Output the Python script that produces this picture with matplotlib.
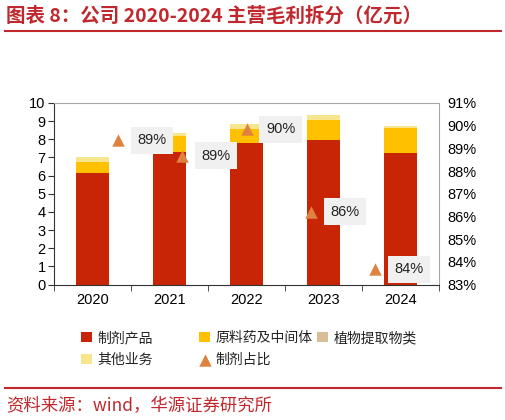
import matplotlib
matplotlib.use("Agg")
import matplotlib.pyplot as plt
import numpy as np

plt.rcParams['font.family'] = ['Liberation Sans', 'Noto Sans CJK SC', 'DejaVu Sans']

years = ['2020', '2021', '2022', '2023', '2024']
prep = [6.13, 7.31, 7.82, 7.97, 7.24]        # 制剂产品
api = [0.61, 0.85, 0.74, 1.11, 1.36]         # 原料药及中间体
plant = [0.0, 0.0, 0.0, 0.0, 0.0]            # 植物提取物类
other = [0.26, 0.18, 0.26, 0.26, 0.15]       # 其他业务
share = [89.35, 88.68, 89.85, 86.2, 83.68]   # 制剂占比 (%)
share_labels = ['89%', '89%', '90%', '86%', '84%']
yticks_left = list(range(0, 11))
yticks_right = list(range(83, 92))

c_red = '#C82506'
c_yel = '#FFC000'
c_tan = '#D8BE96'
c_lt = '#F7E68E'
c_tri = '#E0823F'
c_title = '#C0282D'

fig = plt.figure(figsize=(5.06, 4.2), dpi=100)
ax = fig.add_axes([54/506, 1-284.5/420, 385/506, 181.5/420])
x = np.arange(len(years))
w = 0.42
b1 = ax.bar(x, prep, w, color=c_red, label='制剂产品')
bot = np.array(prep)
b2 = ax.bar(x, api, w, bottom=bot, color=c_yel, label='原料药及中间体')
bot = bot + np.array(api)
b3 = ax.bar(x, plant, w, bottom=bot, color=c_tan, label='植物提取物类')
bot = bot + np.array(plant)
b4 = ax.bar(x, other, w, bottom=bot, color=c_lt, label='其他业务')

ax.set_xlim(-0.5, 4.5)
ax.set_ylim(0, 10)
ax.set_yticks(yticks_left)
ax.set_xticks(x)
ax.set_xticklabels(years)
ax.set_xticks(np.arange(-0.5, 5.0, 1.0), minor=True)
ax.tick_params(axis='x', which='major', length=0, labelsize=10.5, pad=6)
ax.tick_params(axis='x', which='minor', length=4, direction='out', color='#333333')
ax.tick_params(axis='y', length=4, direction='out', labelsize=10.5, pad=2, color='#333333')
ax.spines['left'].set_color('#333333')
ax.spines['bottom'].set_color('#333333')
ax.spines['top'].set_color('#A6A6A6')
ax.spines['right'].set_color('#A6A6A6')

ax2 = ax.twinx()
ax2.set_ylim(83, 91)
ax2.set_yticks(yticks_right)
ax2.set_yticklabels([f'{v}%' for v in yticks_right])
ax2.tick_params(axis='y', length=0, labelsize=10.5, pad=6)
for s in ax2.spines.values():
    s.set_visible(False)
xs = -0.5 + 5 * (np.arange(len(years)) + 1) / 6
tri = ax2.scatter(xs, share, marker='^', s=80, color=c_tri, zorder=5, label='制剂占比', linewidths=0)
for xi, yi, lab in zip(xs, share, share_labels):
    ax2.annotate(lab, (xi, yi), xytext=(14, 0), textcoords='offset points', va='center', ha='left',
                 fontsize=10.5, color='#222222',
                 bbox=dict(boxstyle='square,pad=0.45', fc='#F0F0F0', ec='none'))

legprop = {'family': ['Noto Sans CJK SC'], 'size': 10}
cols = [([b1, b4], ['制剂产品', '其他业务'], 81),
        ([b2, tri], ['原料药及中间体', '制剂占比'], 199),
        ([b3], ['植物提取物类'], 317)]
for hs, ls, xp in cols:
    lg = fig.legend(handles=hs, labels=ls, ncol=1, loc='upper left',
                    bbox_to_anchor=(xp/506, 1-331/420), frameon=False, prop=legprop,
                    handlelength=0.8, handleheight=0.8, handletextpad=0.4,
                    labelspacing=0.55, borderaxespad=0, borderpad=0)
    for t in lg.get_texts():
        t.set_color('#222222')

fig.text(6/506, 1-16/420, '图表 8：公司 2020-2024 主营毛利拆分（亿元）', color=c_title,
         fontsize=14, fontweight='bold', va='center', ha='left', family=['Noto Sans CJK SC'])
fig.add_artist(plt.Line2D([5/506, 501/506], [1-30.5/420, 1-30.5/420], color=c_title, lw=1.5))
fig.add_artist(plt.Line2D([5/506, 501/506], [1-387.5/420, 1-387.5/420], color=c_title, lw=1.5))
fig.text(6/506, 1-406/420, '资料来源：wind，华源证券研究所', color=c_title,
         fontsize=12.5, va='center', ha='left', family=['Noto Sans CJK SC'])

fig.savefig('out.png', dpi=100)
